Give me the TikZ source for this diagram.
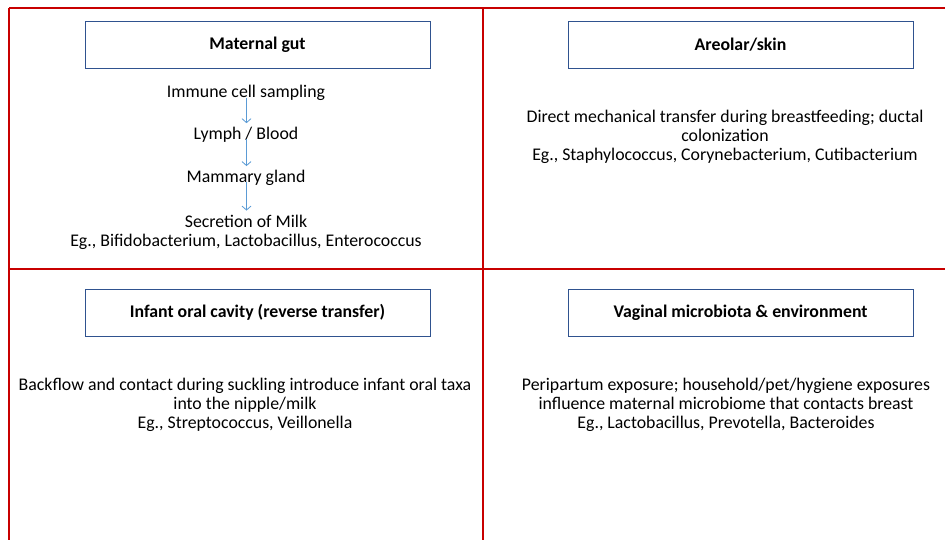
\documentclass[tikz,border=0pt]{standalone}
\usepackage{fontspec}
\setmainfont{Carlito}
\usepackage{tikz}
\usetikzlibrary{arrows.meta}
\definecolor{gridred}{HTML}{C80000}
\definecolor{boxblue}{HTML}{2F528F}
\definecolor{flowblue}{HTML}{5B9BD5}

\begin{document}
\begin{tikzpicture}[x=1pt,y=-1pt,
  every node/.style={font=\fontsize{17.8}{19}\selectfont,inner sep=0pt,align=center},
  head/.style={draw=boxblue,line width=0.9pt,minimum width=345pt,minimum height=47pt,font=\fontsize{17.8}{19}\selectfont\bfseries},
  flow/.style={draw=flowblue,line width=0.8pt,shorten >=4pt,-{Straight Barb[length=4pt,width=9pt]}}]
  \useasboundingbox (0,0) rectangle (945,540);
  \draw[gridred,line width=1.4pt]
    (9,8) -- (945,8)
    (9,269) -- (945,269)
    (9,8) -- (9,540)
    (483,8) -- (483,540);
  \node[head] (hdgut) at (257.5,44.5) {Maternal gut};
  \node[head] (hdskin) at (740.5,44.5) {Areolar/skin};
  \node[head] (hdoral) at (257.5,312.5) {Infant oral cavity (reverse transfer)};
  \node[head] (hdvag) at (740.5,312.5) {Vaginal microbiota \& environment};
  % maternal gut route
  \node (immune) at (246,93) {Immune cell sampling};
  \node (lymph) at (246,135) {Lymph / Blood};
  \node (mammary) at (246,178) {Mammary gland};
  \node (milk) at (246,232) {Secretion of Milk\\Eg., Bifidobacterium, Lactobacillus, Enterococcus};
  \draw[flow] (immune.south) ++(0.5,-3) coordinate (i1) -- (i1 |- lymph.north) ;
  \draw[flow] (lymph.south) ++(0.5,-4) coordinate (l1) -- (l1 |- mammary.north);
  \draw[flow] (mammary.south) ++(0.5,-4) coordinate (m1) -- (m1 |- milk.north);
  \node (skintxt) at (725,137) {Direct mechanical transfer during breastfeeding; ductal\\colonization\\Eg., Staphylococcus, Corynebacterium, Cutibacterium};
  \node (oraltxt) at (245,404.5) {Backflow and contact during suckling introduce infant oral taxa\\into the nipple/milk\\Eg., Streptococcus, Veillonella};
  \node (vagtxt) at (726,404.5) {Peripartum exposure; household/pet/hygiene exposures\\influence maternal microbiome that contacts breast\\Eg., Lactobacillus, Prevotella, Bacteroides};
\end{tikzpicture}
\end{document}
